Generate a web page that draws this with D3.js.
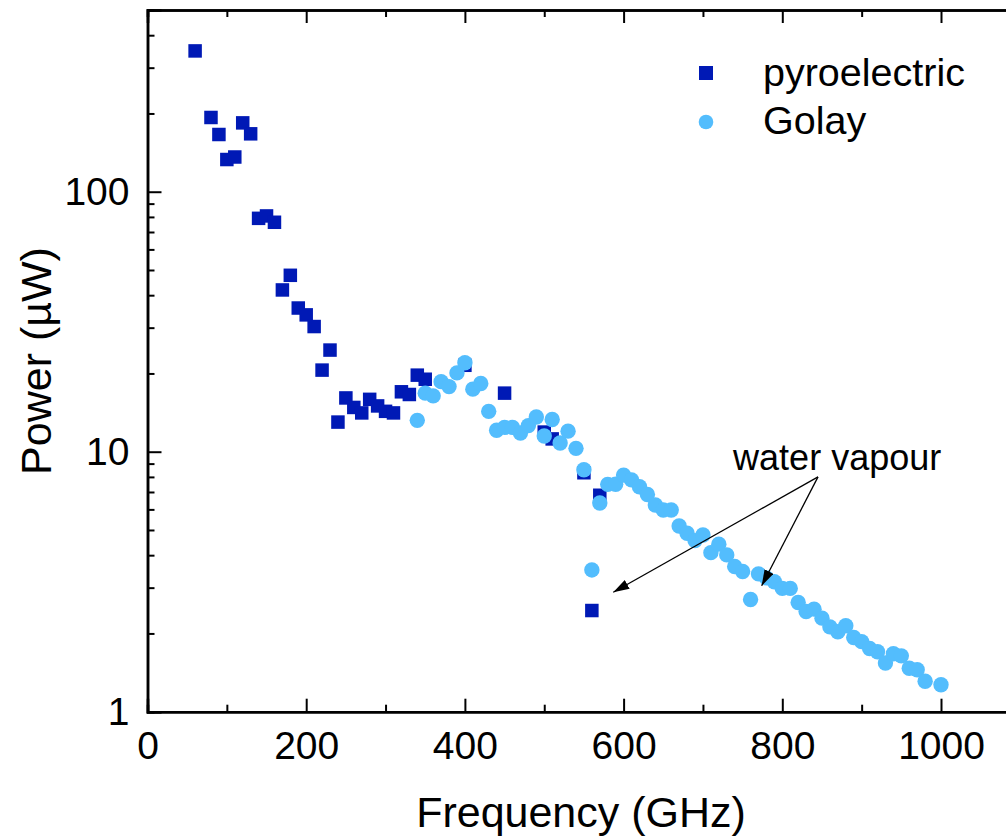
<!DOCTYPE html>
<html>
<head>
<meta charset="utf-8">
<script src="https://cdn.jsdelivr.net/npm/d3@7"></script>
<style>
  html, body { margin: 0; padding: 0; background: #fff; }
  svg { display: block; font-family: Arial, "Liberation Sans", sans-serif; }
</style>
</head>
<body>
<svg id="chart" width="1006" height="838"></svg>
<script>
// ---------- data ----------
const seriesNames = ["pyroelectric", "Golay"];

const pyroFreq = [60, 80, 90, 100, 110, 120, 130, 140, 150, 160, 170, 180, 190, 200, 210, 220, 230, 240, 250, 260, 270, 280, 290, 300, 310, 320, 330, 340, 350, 400, 450, 500, 510, 550, 560, 570];
const pyroPower = [348, 193, 166, 133, 136, 184, 167, 79, 80.7, 76.3, 41.9, 47.7, 35.7, 33.6, 30.3, 20.6, 24.6, 13.0, 16.1, 14.8, 14.1, 15.9, 15.0, 14.3, 14.1, 17.0, 16.6, 19.7, 19.0, 21.5, 16.8, 11.9, 11.2, 8.3, 2.45, 6.8];

const golayFreq = [340, 350, 360, 370, 380, 390, 400, 410, 420, 430, 440, 450, 460, 470, 480, 490, 500, 510, 520, 530, 540, 550, 560, 570, 580, 590, 600, 610, 620, 630, 640, 650, 660, 670, 680, 690, 700, 710, 720, 730, 740, 750, 760, 770, 780, 790, 800, 810, 820, 830, 840, 850, 860, 870, 880, 890, 900, 910, 920, 930, 940, 950, 960, 970, 980, 1000];
const golayPower = [13.2, 16.8, 16.4, 18.6, 17.8, 20.1, 22.0, 17.4, 18.3, 14.3, 12.1, 12.4, 12.4, 11.8, 12.6, 13.6, 11.5, 13.3, 10.8, 12.0, 10.3, 8.52, 3.51, 6.35, 7.49, 7.5, 8.13, 7.79, 7.33, 6.85, 6.24, 5.97, 5.97, 5.18, 4.86, 4.55, 4.78, 4.09, 4.41, 4.01, 3.62, 3.46, 2.70, 3.39, 3.27, 3.16, 2.98, 2.98, 2.63, 2.43, 2.48, 2.29, 2.12, 2.03, 2.14, 1.93, 1.86, 1.75, 1.70, 1.54, 1.67, 1.64, 1.47, 1.45, 1.31, 1.27];

const xMajorTicks = [0, 200, 400, 600, 800, 1000];
const xMinorTicks = [100, 300, 500, 700, 900];
const yMajorTicks = [1, 10, 100];
const yMinorTicks = [2, 3, 4, 5, 6, 7, 8, 9, 20, 30, 40, 50, 60, 70, 80, 90, 200, 300, 400];

const annotationText = "water vapour";
// annotation anchor and arrow targets in data units [GHz, µW]
const annotationAnchor = [738, 8.5];
const arrowStart = [845, 8.0];
const arrowTargets = [[587, 2.88], [774, 3.05]];

// ---------- layout ----------
(function () {
const svg = d3.select("#chart");
const plotLeft = 147.5, plotBottom = 711.7, plotTop = 10;
const pxPerGHz = 0.7935;
const xMax = 1090;

const x = d3.scaleLinear().domain([0, xMax]).range([plotLeft, plotLeft + xMax * pxPerGHz]);
const y = d3.scaleLog().domain([1, 500]).range([plotBottom, plotTop]);

const darkBlue = "#0019b5";
const lightBlue = "#53bdfd";

const axisW = 2.5;

function styleAxis(g) {
  g.select(".domain").attr("stroke", "#000").attr("stroke-width", axisW);
  g.selectAll(".tick line").attr("stroke", "#000").attr("stroke-width", 2);
  g.selectAll(".tick text").attr("fill", "#000").style("font-size", "39px")
    .style("font-family", "Arial, 'Liberation Sans', sans-serif");
}

// bottom axis
svg.append("g").attr("transform", `translate(0,${plotBottom})`)
  .call(d3.axisBottom(x).tickValues(xMinorTicks).tickSize(-7).tickFormat(""))
  .call(styleAxis);
svg.append("g").attr("transform", `translate(0,${plotBottom})`)
  .call(d3.axisBottom(x).tickValues(xMajorTicks).tickSize(-13).tickPadding(20).tickFormat(d3.format("d")))
  .call(styleAxis);

// top axis (mirror, no labels)
svg.append("g").attr("transform", `translate(0,${plotTop})`)
  .call(d3.axisTop(x).tickValues(xMinorTicks).tickSize(-7).tickFormat(""))
  .call(styleAxis);
svg.append("g").attr("transform", `translate(0,${plotTop})`)
  .call(d3.axisTop(x).tickValues(xMajorTicks).tickSize(-13).tickFormat(""))
  .call(styleAxis);

// left axis
svg.append("g").attr("transform", `translate(${plotLeft},0)`)
  .call(d3.axisLeft(y).tickValues(yMinorTicks).tickSize(-7).tickFormat(""))
  .call(styleAxis);
svg.append("g").attr("transform", `translate(${plotLeft},0)`)
  .call(d3.axisLeft(y).tickValues(yMajorTicks).tickSize(-14).tickPadding(18).tickFormat(d3.format("d")))
  .call(styleAxis);

// axis titles
svg.append("text")
  .attr("x", 581).attr("y", 827)
  .attr("text-anchor", "middle")
  .style("font-size", "43px")
  .text("Frequency (GHz)");

svg.append("text")
  .attr("transform", `translate(51,361) rotate(-90)`)
  .attr("text-anchor", "middle")
  .style("font-size", "43px")
  .text("Power (µW)");

// data marks
const pyro = pyroFreq.map((f, i) => ({ f, p: pyroPower[i] }));
const golay = golayFreq.map((f, i) => ({ f, p: golayPower[i] }));

const sq = 13.5;
svg.append("g").selectAll("rect").data(pyro).join("rect")
  .attr("x", d => x(d.f) - sq / 2)
  .attr("y", d => y(d.p) - sq / 2)
  .attr("width", sq).attr("height", sq)
  .attr("fill", darkBlue);

svg.append("g").selectAll("circle").data(golay).join("circle")
  .attr("cx", d => x(d.f))
  .attr("cy", d => y(d.p))
  .attr("r", 7.7)
  .attr("fill", lightBlue);

// legend
const legend = svg.append("g");
legend.append("rect").attr("x", 699).attr("y", 66).attr("width", 14).attr("height", 14).attr("fill", darkBlue);
legend.append("circle").attr("cx", 706).attr("cy", 122).attr("r", 7.3).attr("fill", lightBlue);
legend.append("text").attr("x", 763).attr("y", 86).style("font-size", "39.5px").text(seriesNames[0]);
legend.append("text").attr("x", 763).attr("y", 134).style("font-size", "39.5px").text(seriesNames[1]);

// annotation
const defs = svg.append("defs");
defs.append("marker")
  .attr("id", "arrow")
  .attr("viewBox", "0 0 16 10")
  .attr("refX", 16).attr("refY", 5)
  .attr("markerWidth", 16).attr("markerHeight", 10)
  .attr("markerUnits", "userSpaceOnUse")
  .attr("orient", "auto")
  .append("path").attr("d", "M0,0 L16,5 L0,10 Z").attr("fill", "#000");

svg.append("text")
  .attr("x", x(annotationAnchor[0])).attr("y", y(annotationAnchor[1]))
  .style("font-size", "36px")
  .text(annotationText);

svg.append("g").selectAll("line").data(arrowTargets).join("line")
  .attr("x1", x(arrowStart[0])).attr("y1", y(arrowStart[1]))
  .attr("x2", d => x(d[0])).attr("y2", d => y(d[1]))
  .attr("stroke", "#000").attr("stroke-width", 1.3)
  .attr("marker-end", "url(#arrow)");
})();
</script>
</body>
</html>
